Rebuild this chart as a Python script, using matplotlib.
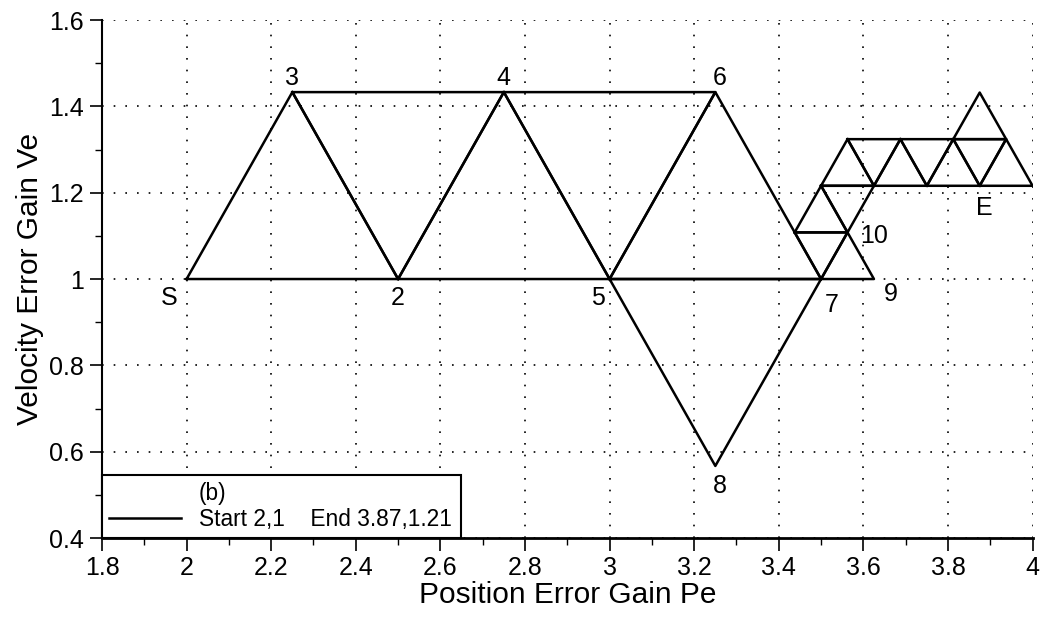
import matplotlib
matplotlib.use('Agg')
import matplotlib.pyplot as plt
from matplotlib.ticker import MultipleLocator

plt.rcParams['font.family'] = ['Liberation Sans', 'DejaVu Sans']

# simplex vertices (Pe, Ve)
vert_x = [2.0, 2.5, 2.25, 2.75, 3.0, 3.25, 3.5, 3.25,
          3.625, 3.5625, 3.4375, 3.5, 3.625, 3.5625, 3.6875,
          3.75, 3.8125, 3.875, 3.9375, 4.0, 3.875]
vert_y = [1.0, 1.0, 1.433, 1.433, 1.0, 1.433, 1.0, 0.567,
          1.0, 1.108, 1.108, 1.216, 1.216, 1.324, 1.324,
          1.216, 1.324, 1.216, 1.324, 1.216, 1.432]

# each simplex as three vertex indices
triangles = [(0, 1, 2), (2, 1, 3), (1, 3, 4), (3, 4, 5), (4, 5, 6),
             (4, 6, 7), (6, 8, 9), (6, 9, 10), (10, 9, 11), (11, 9, 12),
             (11, 12, 13), (13, 12, 14), (12, 14, 15), (14, 15, 16),
             (15, 16, 17), (16, 17, 18), (17, 18, 19), (16, 18, 20)]

# point labels and where they sit
point_names = ['S', '2', '3', '4', '5', '6', '7', '8', '9', '10', 'E']
name_x = [1.96, 2.5, 2.25, 2.75, 2.972, 3.26, 3.525, 3.26, 3.665, 3.625, 3.885]
name_y = [0.955, 0.955, 1.465, 1.465, 0.955, 1.465, 0.94, 0.52, 0.965, 1.10, 1.165]

fig = plt.figure(figsize=(10.43, 6.18), dpi=100)
ax = fig.add_axes([0.0978, 0.1294, 0.8922, 0.8382])

for k, tri in enumerate(triangles):
    xs = [vert_x[i] for i in tri] + [vert_x[tri[0]]]
    ys = [vert_y[i] for i in tri] + [vert_y[tri[0]]]
    ax.plot(xs, ys, '-', color='black', lw=1.8,
            label='Start 2,1    End 3.87,1.21' if k == 0 else None)
ax.plot([], [], color='none', label='(b)')

for name, px, py in zip(point_names, name_x, name_y):
    ax.text(px, py, name, fontsize=18, ha='center', va='center')

ax.set_xlim(1.8, 4.0)
ax.set_ylim(0.4, 1.6)
ax.xaxis.set_minor_locator(MultipleLocator(0.1))
ax.yaxis.set_minor_locator(MultipleLocator(0.1))
ax.set_xticks([1.8, 2, 2.2, 2.4, 2.6, 2.8, 3, 3.2, 3.4, 3.6, 3.8, 4])
ax.set_xticklabels(['1.8', '2', '2.2', '2.4', '2.6', '2.8', '3', '3.2',
                    '3.4', '3.6', '3.8', '4'])
ax.set_yticks([0.4, 0.6, 0.8, 1.0, 1.2, 1.4, 1.6])
ax.set_yticklabels(['0.4', '0.6', '0.8', '1', '1.2', '1.4', '1.6'])

ax.grid(True, which='major', color='black', linestyle=(0, (1, 6)), lw=1.2)
ax.tick_params(which='major', direction='out', length=9, width=1.2,
               labelsize=18, colors='black', pad=4)
ax.tick_params(which='minor', direction='out', length=5, width=1.0)
ax.spines['top'].set_visible(False)
ax.spines['right'].set_visible(False)
ax.spines['left'].set_linewidth(1.5)
ax.spines['bottom'].set_linewidth(2.0)

ax.set_xlabel('Position Error Gain Pe', fontsize=21.5, labelpad=1)
ax.set_ylabel('Velocity Error Gain Ve', fontsize=21.5, labelpad=4)

handles, labels = ax.get_legend_handles_labels()
leg = ax.legend(handles[::-1], labels[::-1], loc='lower left',
                bbox_to_anchor=(0, 0, 0.386, 0.127), mode='expand',
                borderaxespad=0, fancybox=False, fontsize=16.4,
                handlelength=3.15, handletextpad=0.8, borderpad=0.3,
                labelspacing=0.15, framealpha=1)
leg.get_frame().set_edgecolor('black')
leg.get_frame().set_linewidth(1.5)

fig.savefig('out.png', dpi=100)
